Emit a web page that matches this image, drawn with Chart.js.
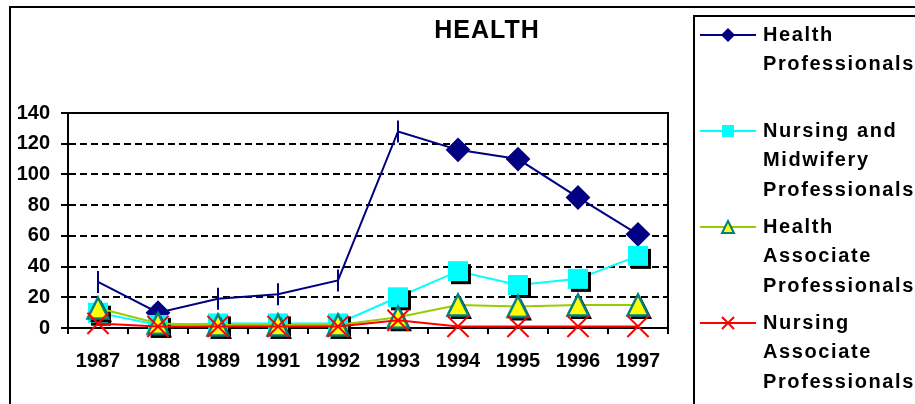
<!DOCTYPE html>
<html>
<head>
<meta charset="utf-8">
<script src="https://cdn.jsdelivr.net/npm/chart.js@4/dist/chart.umd.min.js"></script>
<style>
  body { margin: 0; background: #fff; }
  canvas { display: block; }
</style>
</head>
<body>
<canvas id="chart" width="915" height="404"></canvas>
<script>
// values
const years = ["1987", "1988", "1989", "1991", "1992", "1993", "1994", "1995", "1996", "1997"];
const healthProfessionals = [30, 10, 19, 22, 31, 128, 116, 110, 85, 61];
const nursingMidwifery = [10, 2, 3, 3, 3, 20, 37, 28, 32, 47];
const healthAssociate = [13, 3, 2, 2, 2, 7, 15, 14, 15, 15];
const nursingAssociate = [3, 1, 1, 1, 1, 5, 1, 1, 1, 1];
const yTicks = [0, 20, 40, 60, 80, 100, 120, 140];
const seriesNames = [
  ["Health", "Professionals"],
  ["Nursing and", "Midwifery", "Professionals"],
  ["Health", "Associate", "Professionals"],
  ["Nursing", "Associate", "Professionals"]
];
const chartTitle = "HEALTH";

const FONT = '"Liberation Sans", Arial, sans-serif';

// marker images with the drop shadow the original has
function makeMarker(draw) {
  const c = document.createElement("canvas");
  c.width = c.height = 30;
  draw(c.getContext("2d"), 15);
  return c;
}
const squareMarker = makeMarker((g, m) => {
  g.fillStyle = "#000";
  g.fillRect(m - 10 + 3, m - 10 + 3, 20, 20);
  g.fillStyle = "#00FFFF";
  g.fillRect(m - 10, m - 10, 20, 20);
});
function triPath(g, cx, cy, h) {
  g.beginPath();
  g.moveTo(cx, cy - h);
  g.lineTo(cx + h, cy + h);
  g.lineTo(cx - h, cy + h);
  g.closePath();
}
const triangleMarker = makeMarker((g, m) => {
  triPath(g, m + 3, m + 3, 11);
  g.fillStyle = "#000";
  g.fill();
  triPath(g, m, m, 10.5);
  g.fillStyle = "#FFFF00";
  g.fill();
  g.lineWidth = 2.5;
  g.strokeStyle = "#008080";
  g.stroke();
});

const hpStyles = ["line", "rectRot", "line", "line", "line", "line", "rectRot", "rectRot", "rectRot", "rectRot"];
const hpRotation = hpStyles.map(s => (s === "line" ? 90 : 0));

const framePlugin = {
  id: "frame",
  beforeDraw(chart) {
    const ctx = chart.ctx;
    ctx.save();
    ctx.fillStyle = "#fff";
    ctx.fillRect(0, 0, chart.width, chart.height);
    ctx.strokeStyle = "#000";
    ctx.lineWidth = 2;
    ctx.beginPath();
    ctx.moveTo(10, chart.height);
    ctx.lineTo(10, 7);
    ctx.lineTo(chart.width, 7);
    ctx.stroke();
    ctx.fillStyle = "#000";
    ctx.font = "bold 25px " + FONT;
    ctx.letterSpacing = "1px";
    ctx.textAlign = "center";
    ctx.textBaseline = "middle";
    ctx.fillText(chartTitle, 487, 31);
    ctx.restore();
  },
  beforeDatasetsDraw(chart) {
    const { ctx, chartArea: a } = chart;
    ctx.save();
    ctx.strokeStyle = "#000";
    ctx.lineWidth = 2;
    ctx.beginPath();
    ctx.moveTo(a.left, a.top);
    ctx.lineTo(a.right, a.top);
    ctx.lineTo(a.right, a.bottom);
    ctx.stroke();
    ctx.restore();
  },
  afterDraw(chart) {
    const ctx = chart.ctx;
    ctx.save();
    ctx.strokeStyle = "#000";
    ctx.lineWidth = 2;
    ctx.strokeRect(694, 16, 300, 420);
    ctx.font = "bold 20px " + FONT;
    ctx.letterSpacing = "1.6px";
    ctx.textBaseline = "middle";
    ctx.textAlign = "left";
    const mx = 728;
    seriesNames.forEach((lines, i) => {
      const ds = chart.data.datasets[i];
      const y = 35 + i * 96;
      ctx.strokeStyle = ds.borderColor;
      ctx.lineWidth = 2;
      ctx.beginPath();
      ctx.moveTo(700, y);
      ctx.lineTo(756, y);
      ctx.stroke();
      if (i === 0) {
        ctx.fillStyle = "#000080";
        ctx.beginPath();
        ctx.moveTo(mx, y - 7);
        ctx.lineTo(mx + 7, y);
        ctx.lineTo(mx, y + 7);
        ctx.lineTo(mx - 7, y);
        ctx.closePath();
        ctx.fill();
      } else if (i === 1) {
        ctx.fillStyle = "#00FFFF";
        ctx.fillRect(mx - 6, y - 6, 12, 12);
      } else if (i === 2) {
        triPath(ctx, mx, y, 6);
        ctx.fillStyle = "#FFFF00";
        ctx.fill();
        ctx.strokeStyle = "#008080";
        ctx.lineWidth = 2;
        ctx.stroke();
      } else {
        ctx.strokeStyle = "#FF0000";
        ctx.lineWidth = 2;
        ctx.beginPath();
        ctx.moveTo(mx - 6, y - 6);
        ctx.lineTo(mx + 6, y + 6);
        ctx.moveTo(mx + 6, y - 6);
        ctx.lineTo(mx - 6, y + 6);
        ctx.stroke();
      }
      ctx.fillStyle = "#000";
      lines.forEach((t, k) => ctx.fillText(t, 763, y + k * 29.5));
    });
    ctx.restore();
  }
};

function noPadding(scale) {
  scale.paddingTop = 0;
  scale.paddingBottom = 0;
  scale.paddingLeft = 0;
  scale.paddingRight = 0;
}

new Chart(document.getElementById("chart"), {
  type: "line",
  data: {
    labels: years,
    datasets: [
      {
        label: seriesNames[0].join(" "),
        data: healthProfessionals,
        borderColor: "#000080",
        backgroundColor: "#000080",
        borderWidth: 2,
        pointStyle: hpStyles,
        pointRotation: hpRotation,
        pointRadius: 11,
        pointBorderWidth: 2,
        pointBackgroundColor: "#000080",
        pointBorderColor: "#000080",
        order: 4
      },
      {
        label: seriesNames[1].join(" "),
        data: nursingMidwifery,
        borderColor: "#00FFFF",
        backgroundColor: "#00FFFF",
        borderWidth: 2,
        pointStyle: squareMarker,
        order: 3
      },
      {
        label: seriesNames[2].join(" "),
        data: healthAssociate,
        borderColor: "#99CC00",
        backgroundColor: "#FFFF00",
        borderWidth: 2,
        pointStyle: triangleMarker,
        order: 2
      },
      {
        label: seriesNames[3].join(" "),
        data: nursingAssociate,
        borderColor: "#FF0000",
        backgroundColor: "#FF0000",
        borderWidth: 2,
        pointStyle: "crossRot",
        pointRadius: 15,
        pointBorderWidth: 2,
        pointBorderColor: "#FF0000",
        order: 1
      }
    ]
  },
  options: {
    responsive: false,
    animation: false,
    clip: false,
    layout: { padding: { left: 0, top: 113, right: 247, bottom: 0 } },
    plugins: {
      legend: { display: false },
      title: { display: false },
      tooltip: { enabled: false }
    },
    scales: {
      x: {
        offset: true,
        grid: {
          offset: true,
          drawOnChartArea: false,
          color: "#000",
          lineWidth: 2,
          tickLength: 6
        },
        border: { color: "#000", width: 2 },
        ticks: {
          color: "#000",
          font: { family: FONT, size: 20, weight: "bold" },
          padding: 15,
          maxRotation: 0,
          autoSkip: false
        },
        afterFit(scale) {
          scale.height = 76;
          noPadding(scale);
        }
      },
      y: {
        min: 0,
        max: 140,
        afterBuildTicks(scale) {
          scale.ticks = yTicks.map(v => ({ value: v }));
        },
        grid: {
          color: "#000",
          lineWidth: 2,
          tickLength: 7,
          tickBorderDash: [],
          tickColor: "#000"
        },
        border: { color: "#000", width: 2, dash: [7, 4] },
        ticks: {
          color: "#000",
          font: { family: FONT, size: 20, weight: "bold" },
          padding: 11
        },
        afterFit(scale) {
          scale.width = 68;
          noPadding(scale);
        }
      }
    }
  },
  plugins: [framePlugin]
});
</script>
</body>
</html>
